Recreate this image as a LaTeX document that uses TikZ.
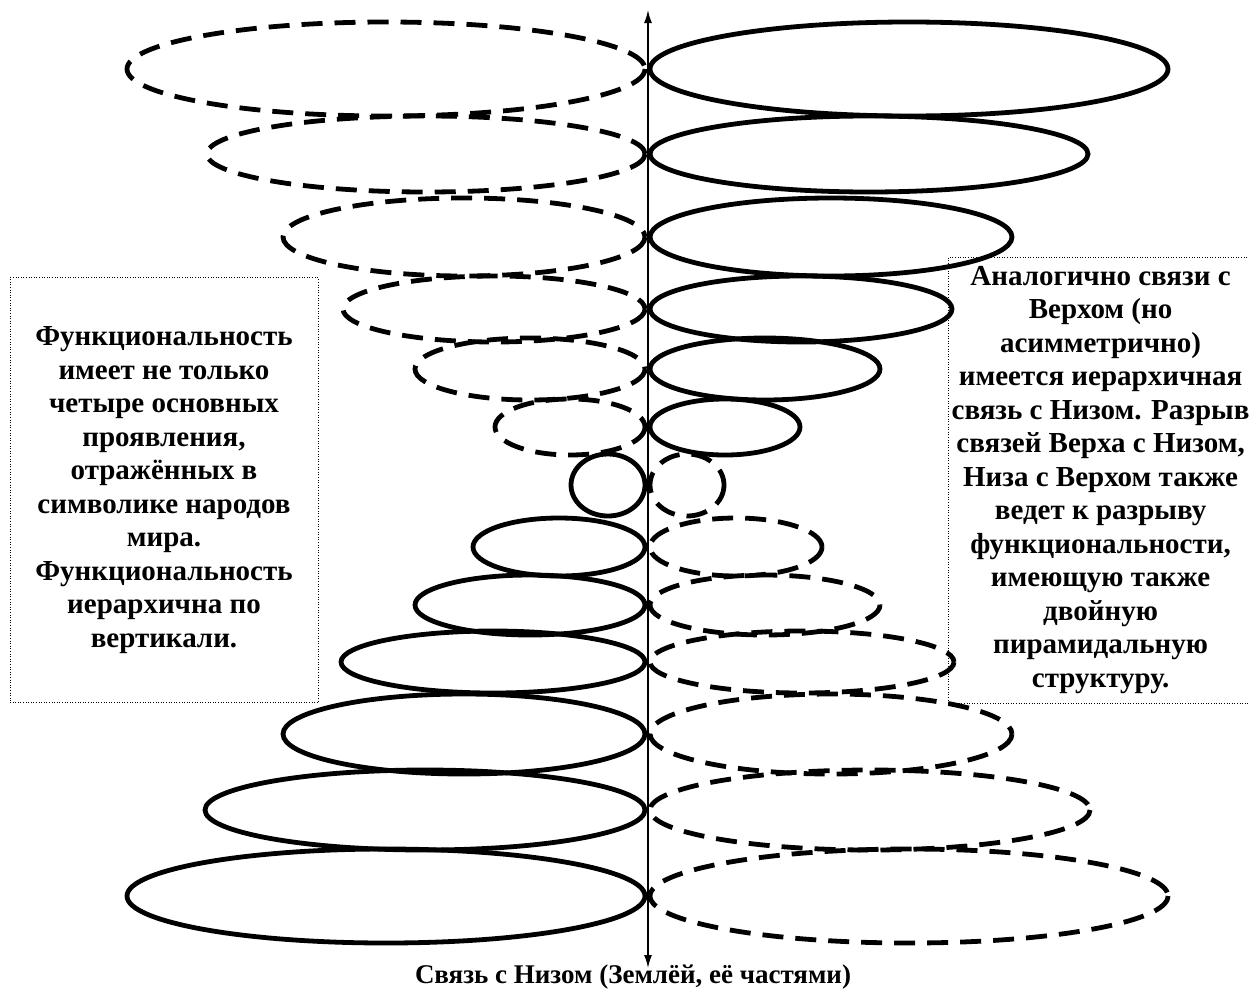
\documentclass[tikz,border=0pt]{standalone}
\usepackage{fontspec}
\setmainfont{Liberation Serif}
\usepackage{tikz}
\usetikzlibrary{arrows.meta,positioning,calc}

\begin{document}
\begin{tikzpicture}[x=1pt, y=-1pt,
    solidring/.style={line width=4.8pt},
    dashring/.style={line width=4.8pt, dash pattern=on 21pt off 12pt},
    notebox/.style={draw, dotted, line width=0.6pt, align=center, inner ysep=1pt,
        font=\bfseries\fontsize{29}{33.5}\selectfont},
    axisline/.style={line width=1.6pt, {Latex[length=13pt,width=8pt]}-{Latex[length=13pt,width=8pt]}}]
    \useasboundingbox (0,0) rectangle (1249,988);

    % rings: left side / right side of the axis
    \foreach \yy/\rx/\ry/\lsty/\rsty in {
        69/259/47/dashring/solidring, 154/219/38/dashring/solidring,
        237/181/39/dashring/solidring, 309/151/33/dashring/solidring,
        369/115/31/dashring/solidring, 427/75/28/dashring/solidring,
        485/37/31/solidring/dashring, 547/86/29/solidring/dashring,
        605/115/30/solidring/dashring, 662/152/31/solidring/dashring,
        734/181/40/solidring/dashring, 810/220/40/solidring/dashring,
        896/259/47/solidring/dashring}
    {
        \draw[\lsty] (645-\rx,\yy) ellipse [x radius=\rx, y radius=\ry];
        \draw[\rsty] (650+\rx,\yy) ellipse [x radius=\rx, y radius=\ry];
    }

    \coordinate (up) at (648,10);
    \coordinate (down) at (648,968);
    \draw[axisline] (down) -- (up);

    \node[notebox, minimum width=308pt, minimum height=425pt] (leftnote) at (164,490) {%
        Функциональность\\ имеет не только\\ четыре основных\\ проявления,\\
        отражённых в\\ символике народов\\ мира.\\ Функциональность\\
        иерархична по\\ вертикали.};
    \node[notebox, anchor=west, minimum width=292pt, minimum height=446pt] (rightnote) at (948,480) {%
        Аналогично связи с\\ Верхом (но\\ асимметрично)\\ имеется иерархичная\\
        связь с Низом. Разрыв\\ связей Верха с Низом,\\ Низа с Верхом также\\
        ведет к разрыву\\ функциональности,\\ имеющую также\\ двойную\\
        пирамидальную\\ структуру.};

    \node[anchor=base, font=\bfseries\fontsize{27}{30}\selectfont] (lowlabel) at (633,983)
        {Связь с Низом (Землёй, её частями)};
\end{tikzpicture}
\end{document}
